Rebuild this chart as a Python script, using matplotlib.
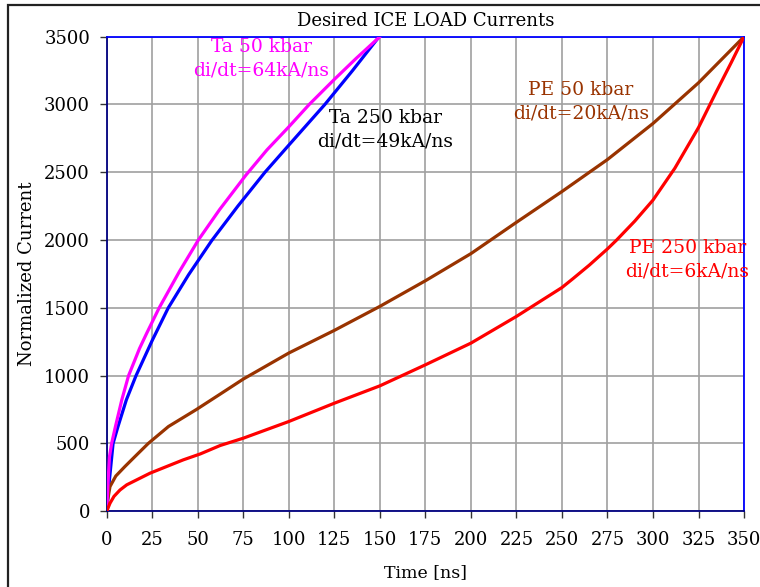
import matplotlib
matplotlib.use("Agg")
import matplotlib.pyplot as plt
from matplotlib.patches import Rectangle

# ---- data ----
ta50_t = [0, 0.8, 1.5, 2.7, 4.8, 8.3, 12, 18, 22, 28.8, 40, 50.3, 62, 76.5, 88, 100, 111.2, 125, 137, 150]
ta50_i = [0, 230, 400, 500, 625, 822, 1000, 1200, 1314, 1500, 1770, 2000, 2225, 2480, 2665, 2835, 3000, 3185, 3340, 3500]

ta250_t = [0, 1.5, 3.5, 6.2, 10.8, 16.1, 25, 33.8, 45, 57.6, 72, 86.9, 100, 119.8, 135, 149.6]
ta250_i = [0, 231, 500, 625, 822, 1000, 1260, 1500, 1745, 1995, 2250, 2500, 2700, 3000, 3250, 3500]

pe50_t = [0, 0.5, 1.8, 5, 10, 16, 22.8, 33.9, 49.2, 62.3, 75, 100, 125, 150, 175, 200, 225, 250, 275, 300, 325, 350]
pe50_i = [0, 80, 182, 260, 330, 410, 500, 625, 750, 864, 975, 1167, 1334, 1511, 1700, 1900, 2131, 2358, 2594, 2860, 3160, 3500]

pe250_t = [0, 1.8, 4, 7.3, 11, 23.8, 42, 51.4, 62.3, 75, 100, 125, 150, 175, 200, 225, 250, 256, 265, 275, 280, 290, 300, 312, 325, 335, 343, 350]
pe250_i = [0, 59, 110, 157, 195, 281, 379, 423, 485, 539, 662, 797, 925, 1080, 1240, 1437, 1650, 1715, 1815, 1935, 2000, 2140, 2295, 2530, 2830, 3100, 3310, 3500]

x_ticks = list(range(0, 351, 25))
y_ticks = list(range(0, 3501, 500))

labels = [
    ("Ta 50 kbar\ndi/dt=64kA/ns", 85, 3340, "#FF00FF"),
    ("Ta 250 kbar\ndi/dt=49kA/ns", 153, 2812, "#000000"),
    ("PE 50 kbar\ndi/dt=20kA/ns", 260.5, 3018, "#993300"),
    ("PE 250 kbar\ndi/dt=6kA/ns", 318.8, 1853, "#FF0000"),
]

plt.rcParams['font.family'] = ['DejaVu Serif']

fig = plt.figure(figsize=(7.6, 5.87), dpi=100)
ax = fig.add_axes([0.1404, 0.129, 0.979 - 0.1404, 0.9375 - 0.129])

lw = 2.3
ax.plot(ta250_t, ta250_i, color="#0000FF", lw=lw, zorder=3)
ax.plot(ta50_t, ta50_i, color="#FF00FF", lw=lw, zorder=4)
ax.plot(pe50_t, pe50_i, color="#993300", lw=lw, zorder=3)
ax.plot(pe250_t, pe250_i, color="#FF0000", lw=lw, zorder=4)

ax.set_xlim(0, 350)
ax.set_ylim(0, 3500)
ax.set_xticks(x_ticks)
ax.set_yticks(y_ticks)
ax.grid(True, color="#a0a0a0", lw=1.2)
ax.set_axisbelow(True)
ax.tick_params(labelsize=13, length=5, width=1, color="#333333", direction="out")
ax.tick_params(axis="x", pad=9)
ax.tick_params(axis="y", pad=7)

ax.spines['left'].set_color("#000080")
ax.spines['bottom'].set_color("#000080")
ax.spines['top'].set_color("#0000FF")
ax.spines['right'].set_color("#0000FF")
for s in ax.spines.values():
    s.set_linewidth(1.3)

for txt, x, y, c in labels:
    ax.text(x, y, txt, color=c, fontsize=13.5, ha="center", va="center",
            linespacing=1.4, zorder=5)

ax.set_title("Desired ICE LOAD Currents", fontsize=13, pad=8)
ax.set_xlabel("Time [ns]", fontsize=12.5, labelpad=11)
ax.set_ylabel("Normalized Current", fontsize=13, labelpad=6)

fig.patches.append(Rectangle((8 / 760, -0.1), 1.2, 1 - 5 / 587 + 0.1,
                             transform=fig.transFigure, fill=False,
                             edgecolor="#222222", lw=1.6))

fig.savefig("out.png", dpi=100)
